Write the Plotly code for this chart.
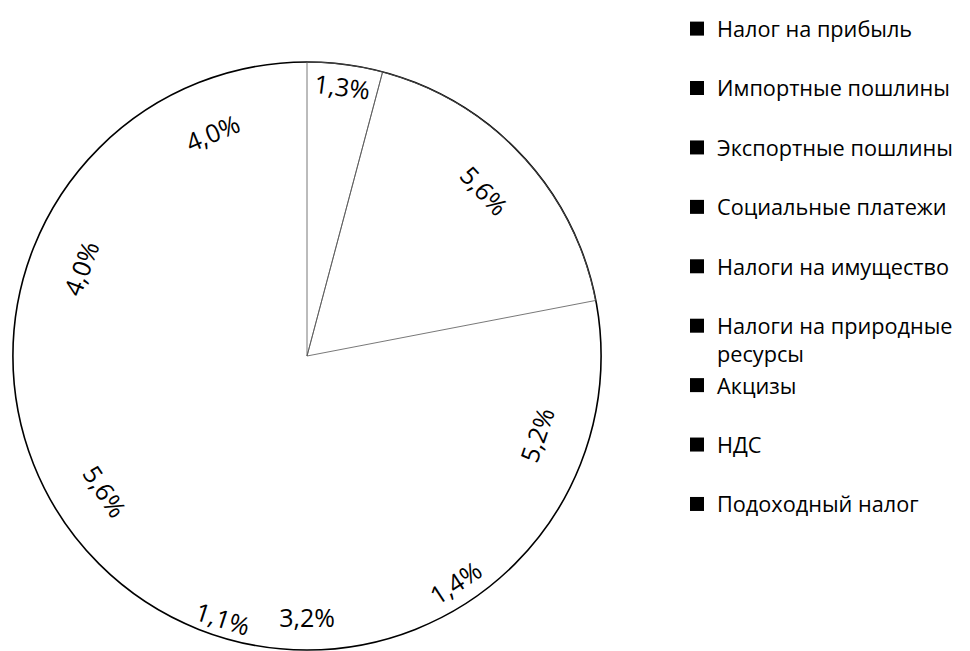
import plotly.graph_objects as go

categories = [
    "Налог на прибыль",
    "Импортные пошлины",
    "Экспортные пошлины",
    "Социальные платежи",
    "Налоги на имущество",
    "Налоги на природные<br>ресурсы",
    "Акцизы",
    "НДС",
    "Подоходный налог",
]
values = [1.3, 5.6, 5.2, 1.4, 3.2, 1.1, 5.6, 4.0, 4.0]
total = [sum(values)]

W, H = 970, 651
dom = dict(x=[5 / W, 593 / W], y=[1 - 642 / H, 1 - 54 / H])

fig = go.Figure()

# outer outline
fig.add_trace(go.Pie(
    labels=["всего"], values=total, sort=False, showlegend=False,
    marker=dict(colors=["white"], line=dict(color="black", width=1.6)),
    textinfo="none", hoverinfo="skip", domain=dom,
))

# slices (only a couple of separators visible as in the reference)
fig.add_trace(go.Pie(
    labels=categories, values=values, sort=False, direction="clockwise",
    rotation=0, showlegend=False,
    marker=dict(colors=["rgba(255,255,255,0)"] * len(values),
                line=dict(color="#555555",
                          width=[0.8, 0.8, 0, 0, 0, 0, 0, 0, 0])),
    textinfo="none", hoverinfo="skip", domain=dom,
))

# labels
fig.add_trace(go.Pie(
    labels=categories, values=values, sort=False, direction="clockwise",
    rotation=0, showlegend=False, hole=0.68,
    marker=dict(colors=["rgba(255,255,255,0)"] * len(values),
                line=dict(width=0)),
    texttemplate="%{value:.1f}%",
    textposition="inside",
    insidetextorientation="tangential",
    textfont=dict(family="Open Sans", size=25, color="black"),
    hoverinfo="skip", domain=dom,
))

for name in categories:
    label = name if "<br>" in name else name + "<br> "
    fig.add_trace(go.Scatter(
        x=[None], y=[None], mode="markers", name=label,
        marker=dict(symbol="square", size=14, color="black"),
        showlegend=True,
    ))

fig.update_layout(
    width=W, height=H,
    margin=dict(l=0, r=0, t=0, b=0),
    paper_bgcolor="white",
    plot_bgcolor="rgba(0,0,0,0)",
    separators=", ",
    xaxis=dict(visible=False),
    yaxis=dict(visible=False),
    legend=dict(
        x=669 / W, y=1, xanchor="left", yanchor="top",
        font=dict(family="Open Sans", size=21.7, color="black"),
        itemwidth=30, valign="top", tracegroupgap=0,
        bgcolor="rgba(0,0,0,0)",
    ),
)

fig.write_html("out.html")
